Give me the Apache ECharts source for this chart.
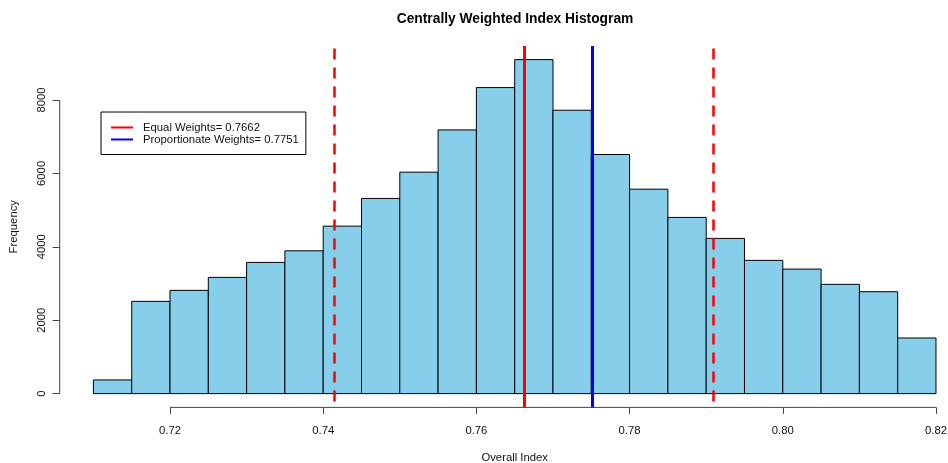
<!DOCTYPE html>
<html>
<head>
<meta charset="utf-8">
<script src="https://cdn.jsdelivr.net/npm/echarts@6/dist/echarts.min.js"></script>
<style>
html,body{margin:0;padding:0;background:#fff;}
#chart{width:948px;height:463px;}
</style>
</head>
<body>
<div id="chart"></div>
<script>
// ---- data ----
const binEdges = [0.710, 0.715, 0.720, 0.725, 0.730, 0.735, 0.740, 0.745, 0.750, 0.755, 0.760, 0.765,
                  0.770, 0.775, 0.780, 0.785, 0.790, 0.795, 0.800, 0.805, 0.810, 0.815, 0.820];
const counts = [373, 2514, 2813, 3167, 3575, 3891, 4563, 5317, 6033, 7184, 8337, 9099,
                7720, 6514, 5570, 4800, 4229, 3630, 3393, 2977, 2776, 1516];
const xTicks = [0.72, 0.74, 0.76, 0.78, 0.80, 0.82];
const xTickLabels = ['0.72', '0.74', '0.76', '0.78', '0.80', '0.82'];
const yTicks = [0, 2000, 4000, 6000, 8000];
const yTickLabels = ['0', '2000', '4000', '6000', '8000'];
const equalWeights = 0.7662;
const propWeights = 0.7751;
const dashedBounds = [0.7415, 0.7909];
const titleText = 'Centrally Weighted Index Histogram';
const xName = 'Overall Index';
const yName = 'Frequency';
const equalName = 'Equal Weights= ' + equalWeights;
const propName = 'Proportionate Weights= ' + propWeights;

// plot-region extents (R adds 4% padding)
const xMin = 0.7056, xMax = 0.8244;
const yMin = -375, yMax = 9470;

const FONT = '"Liberation Sans", Arial, Helvetica, sans-serif';

const histData = counts.map((c, i) => [binEdges[i], binEdges[i + 1], c]);

function pickLabel(ticks, labels) {
  return v => {
    const i = ticks.findIndex(t => Math.abs(t - v) < 1e-9);
    return i >= 0 ? labels[i] : '';
  };
}

const dashStyle = {color: '#ff0000', width: 2.5, type: [11, 8], dashOffset: 13};

const chart = echarts.init(document.getElementById('chart'), null, {renderer: 'canvas'});
chart.setOption({
  animation: false,
  backgroundColor: '#ffffff',
  textStyle: {fontFamily: FONT},
  title: {
    text: titleText,
    left: 515,
    textAlign: 'center',
    top: 12,
    padding: 0,
    textStyle: {fontSize: 13.8, fontWeight: 'bold', color: '#000', fontFamily: FONT}
  },
  legend: {
    data: [equalName, propName],
    orient: 'vertical',
    left: 101,
    top: 112,
    padding: [9.5, 7, 9, 10],
    itemGap: 0,
    itemWidth: 22,
    itemHeight: 2,
    icon: 'rect',
    borderColor: '#000',
    borderWidth: 1,
    borderRadius: 0,
    backgroundColor: '#fff',
    selectedMode: false,
    textStyle: {fontSize: 11.3, color: '#111', lineHeight: 12, fontFamily: FONT, padding: [0, 0, 0, 5]}
  },
  grid: {
    left: 59.7,
    right: -21.7,
    top: 46,
    bottom: 55.6,
    outerBoundsMode: 'none',
    containLabel: false
  },
  xAxis: {
    type: 'value',
    min: xMin,
    max: xMax,
    name: xName,
    nameLocation: 'middle',
    nameGap: 45,
    nameTextStyle: {fontSize: 11.3, color: '#111', fontFamily: FONT},
    axisLine: {show: false, onZero: false},
    splitLine: {show: false},
    axisTick: {show: true, customValues: xTicks, length: 6.5, lineStyle: {color: '#444', width: 1}},
    axisLabel: {
      customValues: xTicks,
      margin: 18,
      fontSize: 11.3,
      color: '#111',
      fontFamily: FONT,
      formatter: pickLabel(xTicks, xTickLabels)
    }
  },
  yAxis: {
    type: 'value',
    min: yMin,
    max: yMax,
    name: yName,
    nameLocation: 'middle',
    nameRotate: 90,
    nameGap: 40,
    nameTextStyle: {fontSize: 11.3, color: '#111', fontFamily: FONT},
    axisLine: {show: false, onZero: false},
    splitLine: {show: false},
    axisTick: {show: true, customValues: yTicks, length: 7, lineStyle: {color: '#444', width: 1}},
    axisLabel: {
      customValues: yTicks,
      rotate: 90,
      margin: 12,
      fontSize: 11.3,
      color: '#111',
      fontFamily: FONT,
      formatter: pickLabel(yTicks, yTickLabels)
    }
  },
  series: [
    {
      name: 'hist',
      type: 'custom',
      z: 1,
      silent: true,
      data: histData,
      encode: {x: [0, 1], y: 2},
      renderItem: (params, api) => {
        const x0 = api.value(0), x1 = api.value(1), c = api.value(2);
        const pTop = api.coord([x0, c]);
        const pBot = api.coord([x1, 0]);
        return {
          type: 'rect',
          shape: {x: pTop[0], y: pTop[1], width: pBot[0] - pTop[0], height: pBot[1] - pTop[1]},
          style: {fill: '#87CEEB', stroke: '#000', lineWidth: 1}
        };
      }
    },
    {
      name: 'xAxisLine',
      type: 'line',
      silent: true,
      clip: false,
      symbol: 'none',
      z: 2,
      data: [[xTicks[0], yMin], [xTicks[xTicks.length - 1], yMin]],
      lineStyle: {color: '#444', width: 1}
    },
    {
      name: 'yAxisLine',
      type: 'line',
      silent: true,
      clip: false,
      symbol: 'none',
      z: 2,
      data: [[xMin, yTicks[0]], [xMin, yTicks[yTicks.length - 1]]],
      lineStyle: {color: '#444', width: 1}
    },
    {
      name: equalName,
      type: 'line',
      data: [],
      color: '#ff0000',
      z: 3,
      markLine: {
        silent: true,
        precision: 6,
        symbol: ['none', 'none'],
        label: {show: false},
        emphasis: {disabled: true},
        data: [
          {xAxis: dashedBounds[0], lineStyle: dashStyle},
          {xAxis: dashedBounds[1], lineStyle: dashStyle},
          {xAxis: equalWeights, lineStyle: {color: '#ff0000', width: 3, type: 'solid'}}
        ]
      }
    },
    {
      name: propName,
      type: 'line',
      data: [],
      color: '#0000ff',
      z: 3,
      markLine: {
        silent: true,
        precision: 6,
        symbol: ['none', 'none'],
        label: {show: false},
        emphasis: {disabled: true},
        data: [
          {xAxis: propWeights, lineStyle: {color: '#0000ff', width: 3, type: 'solid'}}
        ]
      }
    }
  ]
});
</script>
</body>
</html>
